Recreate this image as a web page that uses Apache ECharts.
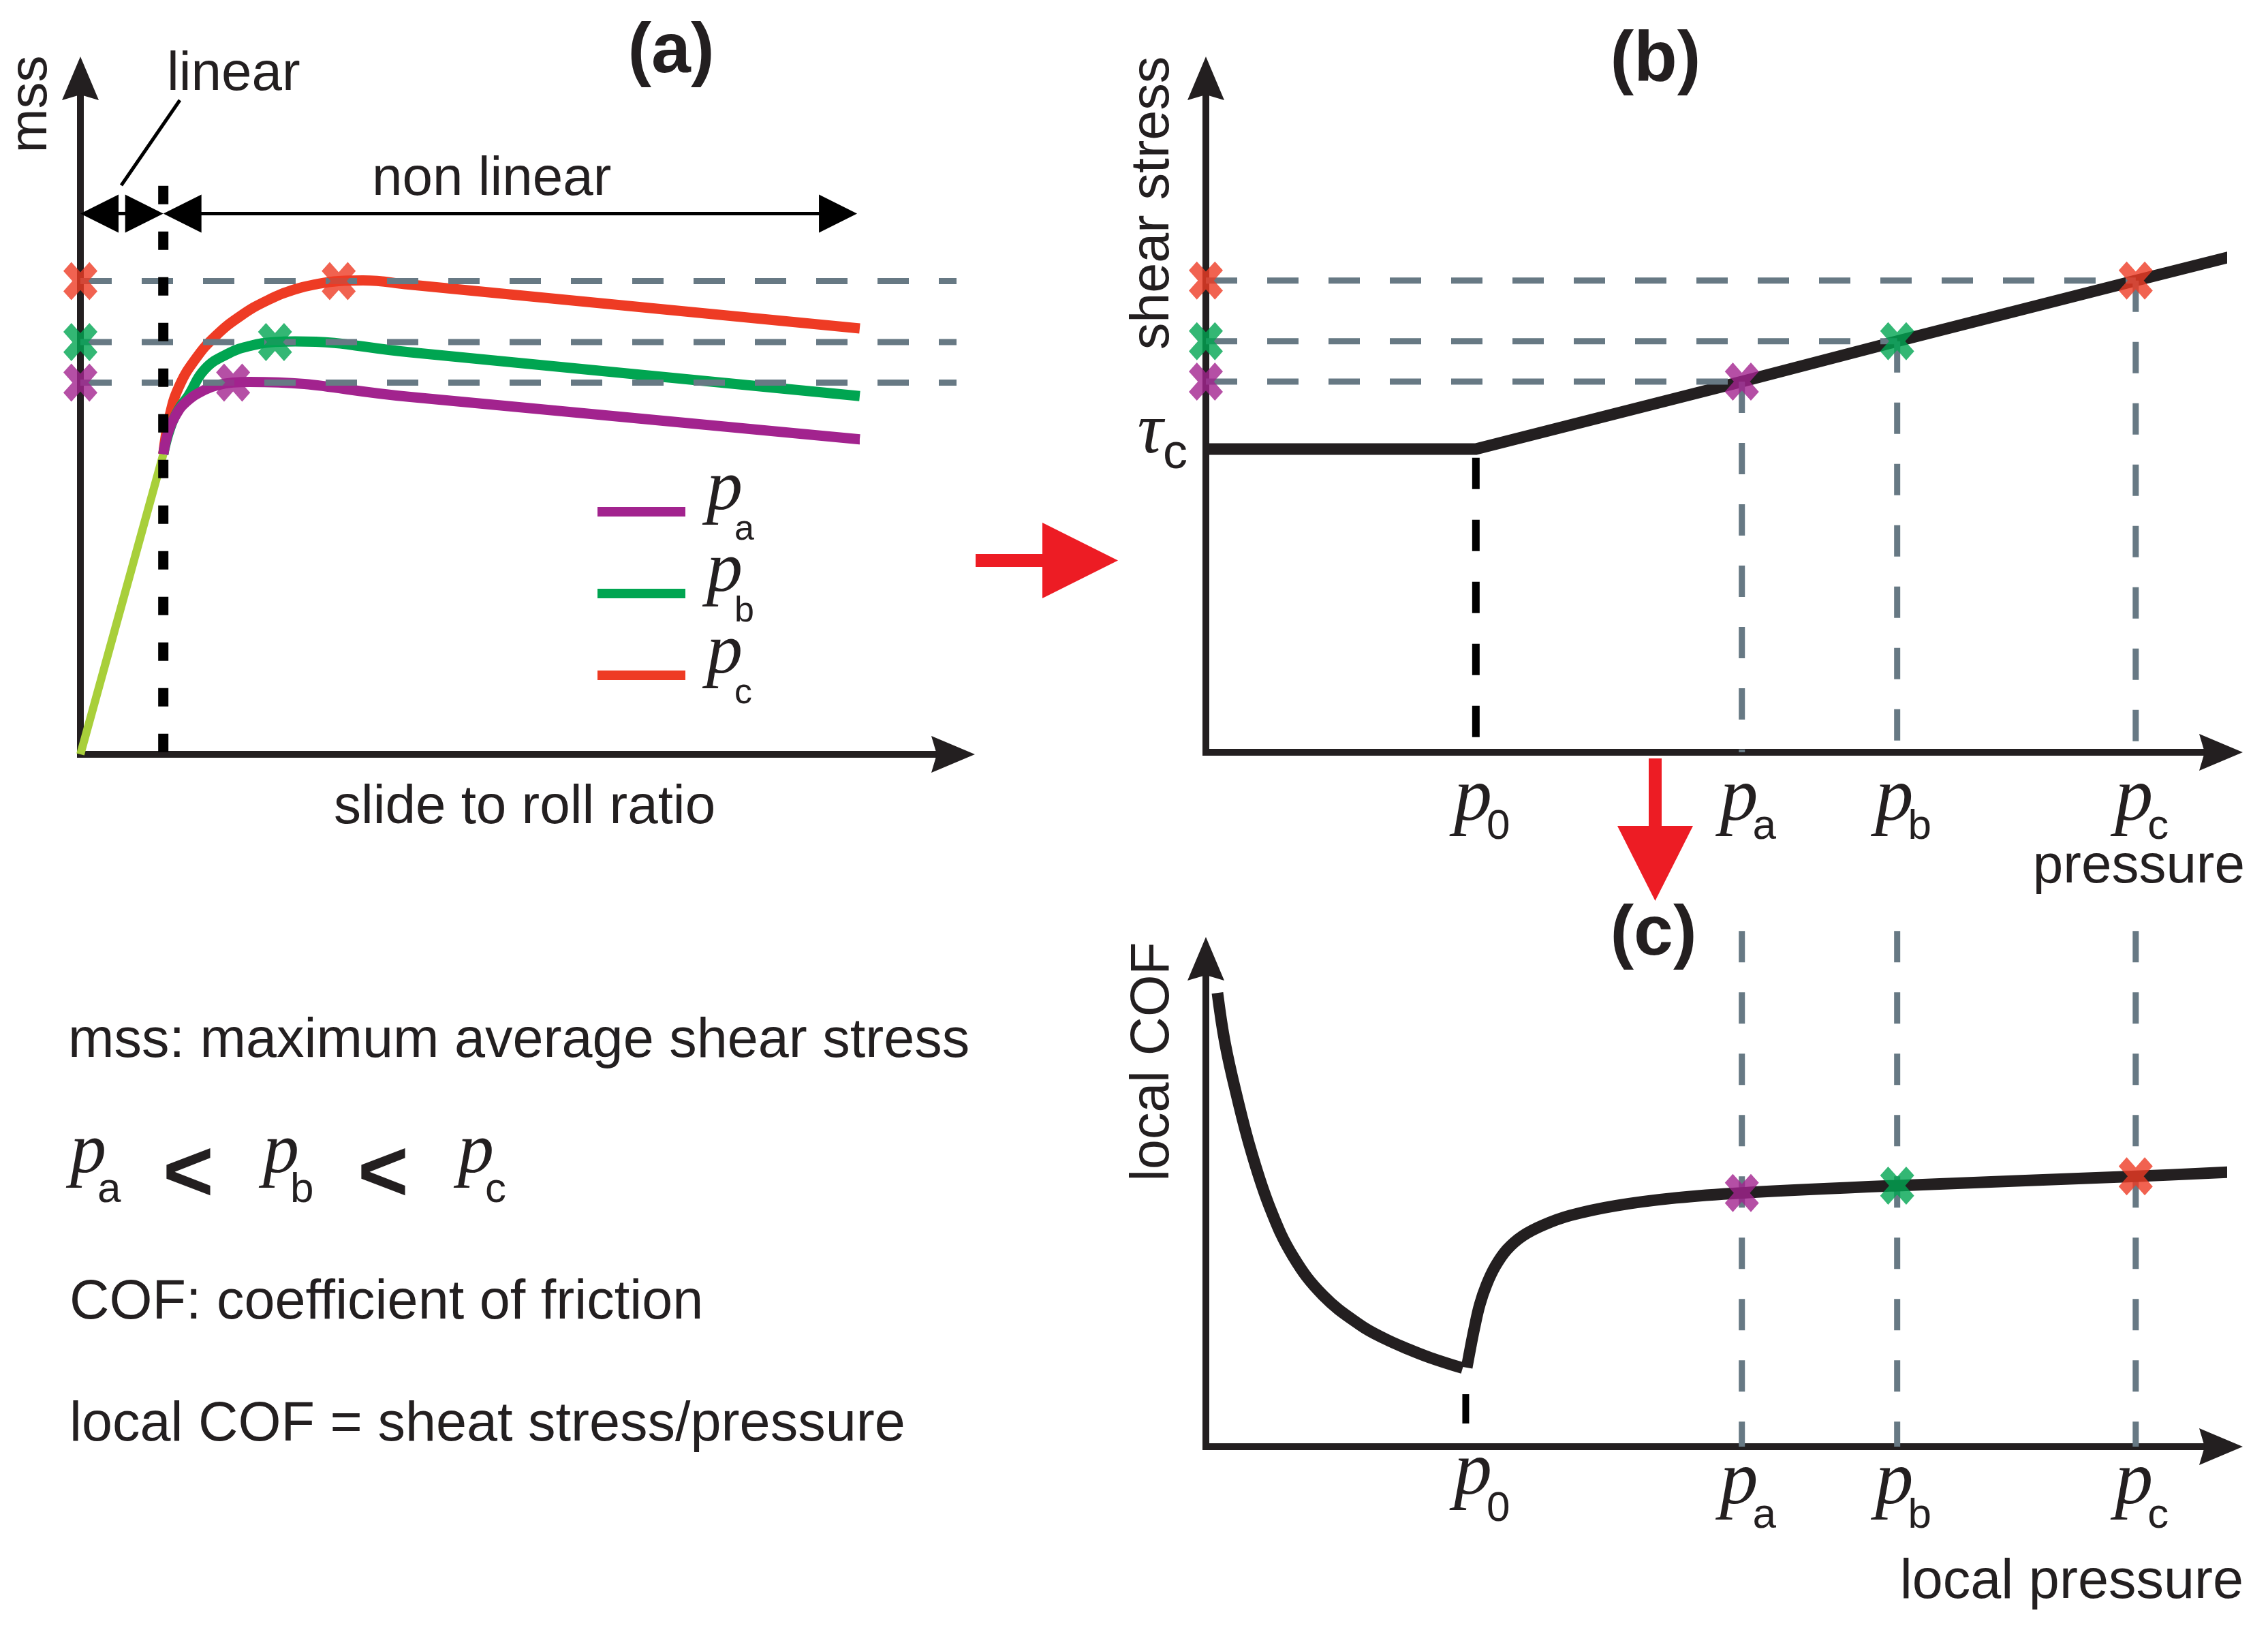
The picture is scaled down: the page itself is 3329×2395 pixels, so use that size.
<!DOCTYPE html>
<html>
<head>
<meta charset="utf-8">
<script src="https://cdn.jsdelivr.net/npm/echarts@6/dist/echarts.min.js"></script>
<style>
html,body{margin:0;padding:0;background:#ffffff;}
#chart{width:3329px;height:2395px;}
</style>
</head>
<body>
<div id="chart"></div>
<script>
// ---------------- Panel (a): mss vs slide to roll ratio ----------------
const linearSrr = [0, 0.95];
const linearMss = [0, 4.44];
const srrPa = [0.95, 1.01, 1.09, 1.21, 1.42, 1.60, 1.75, 1.94, 3.76, 8.93];
const mssPa = [4.44, 4.78, 5.01, 5.21, 5.39, 5.47, 5.50, 5.51, 5.29, 4.66];
const srrPb = [0.95, 1.03, 1.13, 1.24, 1.42, 1.68, 1.94, 2.23, 2.46, 3.76, 8.93];
const mssPb = [4.44, 4.83, 5.11, 5.31, 5.69, 5.92, 6.04, 6.10, 6.11, 5.95, 5.30];
const srrPc = [0.95, 1.02, 1.13, 1.32, 1.55, 1.84, 2.15, 2.46, 2.72, 2.96, 3.24, 3.76, 8.93];
const mssPc = [4.44, 4.99, 5.44, 5.85, 6.19, 6.49, 6.72, 6.88, 6.96, 7.00, 7.01, 6.95, 6.30];
const peakSrr = [1.75, 2.23, 2.96];          // max of each curve (pa, pb, pc)
const mssLevels = [5.5, 6.1, 7.0];           // mss of pa, pb, pc
const guideEndSrr = 11.34;                   // horizontal guides run past the axis
const kneeSrr = 0.95;                        // end of linear regime
const kneeGuideTop = 8.41;
const regimeEnds = [0, 0.95, 8.9];           // linear | non linear
const regimeLevel = 8.0;

// ---------------- Panel (b): shear stress vs pressure ----------------
const pressureTicks = [2.66, 5.28, 6.81, 9.16];  // p0, pa, pb, pc
const pressureSubs = ['0', 'a', 'b', 'c'];
const shearP = [0, 2.66, 5.28, 6.81, 9.16, 10.22];
const shearTau = [4.5, 4.5, 5.5, 6.1, 7.0, 7.4];
const tauC = 4.5;
const p0GuideB = [4.37, 0.22];

// ---------------- Panel (c): local COF vs local pressure ----------------
const cofLowP = [0.114, 0.188, 0.302, 0.450, 0.638, 0.859, 1.154, 1.523, 1.765, 1.993, 2.215, 2.530];
const cofLow  = [9.30, 8.28, 7.21, 6.03, 4.86, 3.90, 3.10, 2.49, 2.21, 2.00, 1.82, 1.61];
const cofHighP = [2.570, 2.604, 2.644, 2.698, 2.765, 2.852, 2.966, 3.121, 3.322, 3.591, 4.040, 4.631, 5.28, 6.81, 9.16, 10.22];
const cofHigh  = [1.62, 2.00, 2.42, 2.91, 3.32, 3.70, 4.04, 4.32, 4.54, 4.74, 4.94, 5.10, 5.20, 5.35, 5.54, 5.64];
const cofLevels = [5.20, 5.35, 5.54];
const p0GuideC = [2.56, 1.075, 0.475];
const guideTopC = 10.57;

// ---------------- styles ----------------
const INK = '#231f20';
const GUIDE = '#677984';
const COLORS = ['#a2238e', '#00a551', '#ee3b24'];   // pa, pb, pc
const LIME = '#a8cf3a';
const RED = '#ed1c24';
const SANS = '"Liberation Sans", Arial, Helvetica, sans-serif';
const SERIF = '"Liberation Serif", "Times New Roman", serif';
const ARROW = 'path://M0 0L27 64L0 56L-27 64Z';
const XMARK = 'path://M-1 -0.53L-0.53 -1L0 -0.47L0.53 -1L1 -0.53L0.47 0L1 0.53L0.53 1L0 0.47L-0.53 1L-1 0.53L-0.47 0Z';
const DASH = [46, 44];

const zip = (xs, ys) => xs.map((x, i) => [x, ys[i]]);
const series = [];
function addLine(name, g, data, color, width, z, dash, smooth) {
  series.push({
    type: 'line', name, xAxisIndex: g, yAxisIndex: g, data, z,
    showSymbol: false, symbol: 'none', clip: false, silent: true,
    smooth: smooth || false,
    lineStyle: {color, width, type: dash || 'solid', cap: 'butt', join: 'round'},
    itemStyle: {color}, emphasis: {disabled: true}
  });
}
function addMarks(name, g, data, color) {
  series.push({
    type: 'scatter', name, xAxisIndex: g, yAxisIndex: g, data, z: 10,
    symbol: XMARK, symbolSize: [50, 56], clip: false, silent: true,
    itemStyle: {color}, emphasis: {disabled: true}
  });
}

// panel (a)
addLine('linear', 0, zip(linearSrr, linearMss), LIME, 12, 2);
addLine('pc', 0, zip(srrPc, mssPc), COLORS[2], 15, 3, null, 0.45);
addLine('pb', 0, zip(srrPb, mssPb), COLORS[1], 15, 3, null, 0.45);
addLine('pa', 0, zip(srrPa, mssPa), COLORS[0], 15, 3, null, 0.45);
mssLevels.forEach((m, i) => addLine('mssGuide' + i, 0, [[0, m], [guideEndSrr, m]], GUIDE, 9, 4, DASH));
addLine('kneeGuide', 0, [[kneeSrr, kneeGuideTop], [kneeSrr, 0]], '#000', 15, 5, [27, 40]);
series.push({
  type: 'custom', name: 'regimes', xAxisIndex: 0, yAxisIndex: 0, clip: false, silent: true, z: 6,
  data: [[regimeEnds[0], regimeEnds[1], regimeLevel], [regimeEnds[1], regimeEnds[2], regimeLevel]],
  encode: {x: [0, 1], y: 2},
  renderItem: (params, api) => {
    const a = api.coord([api.value(0), api.value(2)]);
    const b = api.coord([api.value(1), api.value(2)]);
    const L = 56, H = 28;
    return {type: 'group', children: [
      {type: 'line', shape: {x1: a[0] + L - 1, y1: a[1], x2: b[0] - L + 1, y2: b[1]}, style: {stroke: '#000', lineWidth: 5}},
      {type: 'polygon', shape: {points: [[a[0], a[1]], [a[0] + L, a[1] - H], [a[0] + L, a[1] + H]]}, style: {fill: '#000'}},
      {type: 'polygon', shape: {points: [[b[0], b[1]], [b[0] - L, b[1] - H], [b[0] - L, b[1] + H]]}, style: {fill: '#000'}}
    ]};
  }
});
COLORS.forEach((c, i) => addMarks('mssMark' + i, 0, [[0, mssLevels[i]], [peakSrr[i], mssLevels[i]]], c));

// panel (b)
addLine('shear', 1, zip(shearP, shearTau), INK, 17, 3);
mssLevels.forEach((m, i) => addLine('tauGuideH' + i, 1, [[0, m], [pressureTicks[i + 1], m]], GUIDE, 9, 4, DASH));
mssLevels.forEach((m, i) => addLine('tauGuideV' + i, 1, [[pressureTicks[i + 1], m], [pressureTicks[i + 1], 0]], GUIDE, 9, 4, DASH));
addLine('p0GuideB', 1, [[pressureTicks[0], p0GuideB[0]], [pressureTicks[0], p0GuideB[1]]], '#000', 11, 5, [46, 45]);
COLORS.forEach((c, i) => addMarks('tauMark' + i, 1, [[0, mssLevels[i]], [pressureTicks[i + 1], mssLevels[i]]], c));

// panel (c)
cofLevels.forEach((m, i) => addLine('cofGuide' + i, 2, [[pressureTicks[i + 1], guideTopC], [pressureTicks[i + 1], 0]], GUIDE, 9, 2, DASH));
addLine('cofLow', 2, zip(cofLowP, cofLow), INK, 17, 3, null, 0.4);
addLine('cofHigh', 2, zip(cofHighP, cofHigh), INK, 17, 3, null, 0.4);
addLine('p0GuideC', 2, [[p0GuideC[0], p0GuideC[1]], [p0GuideC[0], p0GuideC[2]]], '#000', 10, 5);
COLORS.forEach((c, i) => addMarks('cofMark' + i, 2, [[pressureTicks[i + 1], cofLevels[i]]], c));

// ---------------- axes ----------------
function axisLine() {
  return {show: true, onZero: false, symbol: ['none', ARROW], symbolSize: [54, 64],
          lineStyle: {color: INK, width: 10, cap: 'square'}};
}
function subFor(v) {
  let best = 0;
  pressureTicks.forEach((t, i) => { if (Math.abs(t - v) < Math.abs(pressureTicks[best] - v)) best = i; });
  return best;
}
function pRich(pTop, s0Top) {
  return {
    p: {fontFamily: SERIF, fontStyle: 'italic', fontSize: 112, color: INK, lineHeight: 20, width: 40, padding: [pTop, 0, 0, 26]},
    s: {fontFamily: SANS, fontSize: 62, color: INK, lineHeight: 20, padding: [115, 0, 0, 0]},
    p0: {fontFamily: SERIF, fontStyle: 'italic', fontSize: 112, color: INK, lineHeight: 20, width: 40, padding: [0, 0, 8, 26]},
    s0: {fontFamily: SANS, fontSize: 62, color: INK, lineHeight: 20, padding: [s0Top, 0, 0, 0]}
  };
}
function baseAxis(g, max) {
  return {gridIndex: g, type: 'value', min: 0, max: max, axisLine: axisLine(),
          axisTick: {show: false}, splitLine: {show: false}, axisLabel: {show: false}};
}
const xB = baseAxis(1, 10);
xB.axisLabel = {show: true, customValues: pressureTicks, margin: 42, lineHeight: 20, hideOverlap: false,
  formatter: v => '{p|p}{s|' + pressureSubs[subFor(v)] + '}', rich: pRich(36, 95)};
const xC = baseAxis(2, 10);
xC.axisLabel = {show: true, customValues: pressureTicks, margin: 34, lineHeight: 20, hideOverlap: false,
  formatter: v => { const i = subFor(v); return i === 0 ? '{p0|p}{s0|0}' : '{p|p}{s|' + pressureSubs[i] + '}'; },
  rich: pRich(20, 95)};
const yB = baseAxis(1, 10);
yB.axisLabel = {show: true, customValues: [tauC], margin: 27, lineHeight: 20,
  formatter: () => '{t|\u03c4}{s|c}',
  rich: {
    t: {fontFamily: SERIF, fontStyle: 'italic', fontSize: 105, color: INK, lineHeight: 20, width: 41, padding: [0, 0, 45, 0]},
    s: {fontFamily: SANS, fontSize: 72, color: INK, lineHeight: 20, padding: [16, 0, 0, 0]}
  }};

// ---------------- texts ----------------
function txt(text, x, baseline, size, o) {
  o = o || {};
  return {type: 'text', x: x, y: baseline - 0.3465 * size, z: 20, silent: true,
    style: {text, fill: INK, fontSize: size, fontFamily: o.family || SANS, fontWeight: o.weight || 'normal',
            align: o.align || 'left', verticalAlign: 'middle'}};
}
function vtxt(text, baselineX, centerY, size) {
  return {type: 'text', x: baselineX - 0.3465 * size, y: centerY, rotation: Math.PI / 2, z: 20, silent: true,
    style: {text, fill: INK, fontSize: size, fontFamily: SANS, align: 'center', verticalAlign: 'middle'}};
}
const blockRich = {
  p: {fontFamily: SERIF, fontStyle: 'italic', fontSize: 106, fill: INK, lineHeight: 20, width: 40},
  s: {fontFamily: SANS, fontSize: 62, fill: INK, lineHeight: 20, padding: [109, 0, 0, 0]}
};
function ptxt(sub, x) {
  return {type: 'text', x: x, y: 1692, z: 20, silent: true,
    style: {text: '{p|p}{s|' + sub + '}', rich: blockRich, fill: INK, align: 'left', verticalAlign: 'middle'}};
}
const lessThan = x => ({type: 'text', x: x, y: 1727, z: 20, silent: true,
  style: {text: '<', fill: INK, fontSize: 128, fontFamily: SANS, fontWeight: 'bold', align: 'left', verticalAlign: 'middle'}});
const graphics = [
  vtxt('mss', 74, 153, 78),
  txt('linear', 245, 138, 80),
  {type: 'line', silent: true, shape: {x1: 264, y1: 147, x2: 178, y2: 272}, style: {stroke: '#000', lineWidth: 5}},
  txt('non linear', 546, 292, 80),
  txt('(a)', 985, 113, 104, {weight: 'bold', align: 'center'}),
  txt('slide to roll ratio', 770, 1214, 80, {align: 'center'}),
  txt('(b)', 2430, 125, 104, {weight: 'bold', align: 'center'}),
  vtxt('shear stress', 1721, 298, 79),
  txt('pressure', 3295, 1301, 80, {align: 'right'}),
  txt('(c)', 2427, 1408, 104, {weight: 'bold', align: 'center'}),
  vtxt('local COF', 1721, 1558, 79),
  txt('local pressure', 3293, 2351, 81, {align: 'right'}),
  txt('mss: maximum average shear stress', 100, 1557, 81),
  ptxt('a', 103), ptxt('b', 386), ptxt('c', 672),
  lessThan(239), lessThan(525),
  txt('COF: coefficient of friction', 102, 1941, 81),
  txt('local COF = sheat stress/pressure', 102, 2120, 81),
  // red flow arrows between panels
  {type: 'rect', silent: true, shape: {x: 1432, y: 813, width: 99, height: 19}, style: {fill: RED}},
  {type: 'polygon', silent: true, shape: {points: [[1530, 767], [1641, 822.5], [1530, 878]]}, style: {fill: RED}},
  {type: 'rect', silent: true, shape: {x: 2420, y: 1113, width: 19, height: 100}, style: {fill: RED}},
  {type: 'polygon', silent: true, shape: {points: [[2374, 1212], [2485, 1212], [2429.5, 1322]]}, style: {fill: RED}}
];

const chart = echarts.init(document.getElementById('chart'), null, {renderer: 'canvas'});
chart.setOption({
  animation: false,
  backgroundColor: '#ffffff',
  textStyle: {fontFamily: SANS},
  grid: [
    {left: 118, top: 115, width: 1281, height: 992, containLabel: false, outerBoundsMode: 'none'},
    {left: 1770, top: 115, width: 1490, height: 989, containLabel: false, outerBoundsMode: 'none'},
    {left: 1770, top: 1407, width: 1490, height: 716, containLabel: false, outerBoundsMode: 'none'}
  ],
  xAxis: [baseAxis(0, 10), xB, xC],
  yAxis: [baseAxis(0, 10), yB, baseAxis(2, 10)],
  legend: {
    data: ['pa', 'pb', 'pc'], orient: 'vertical', left: 877, top: 666, padding: 0,
    itemWidth: 129, itemHeight: 14, itemGap: -50, icon: 'rect', selectedMode: false,
    itemStyle: {borderWidth: 0},
    formatter: name => '{p|p}{s|' + name.slice(1) + '}',
    textStyle: {
      lineHeight: 14,
      rich: {
        p: {fontFamily: SERIF, fontStyle: 'italic', fontSize: 106, color: INK, lineHeight: 14, width: 41, padding: [0, 0, 64, 26]},
        s: {fontFamily: SANS, fontSize: 52, color: INK, lineHeight: 14, padding: [54, 0, 0, 0]}
      }
    }
  },
  graphic: {elements: graphics},
  series: series
});
</script>
</body>
</html>
